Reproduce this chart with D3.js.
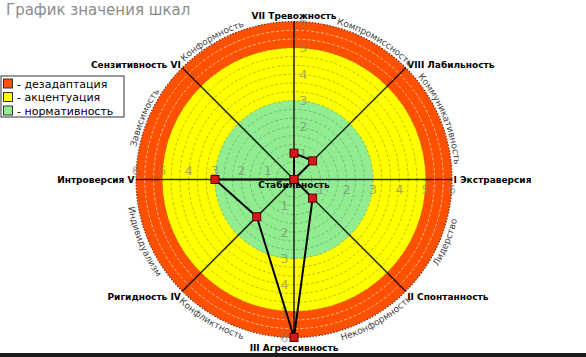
<!DOCTYPE html>
<html><head><meta charset="utf-8">
<script src="https://cdn.jsdelivr.net/npm/d3@7"></script>
<style>html,body{margin:0;padding:0;background:#fff;}svg{display:block;font-family:"DejaVu Sans",Verdana,sans-serif;}</style>
</head><body>
<svg id="chart" width="586" height="357"></svg>
<script>
const categories = ["I Экстраверсия","II Спонтанность","III Агрессивность","Ригидность IV","Интроверсия V","Сензитивность VI","VII Тревожность","VIII Лабильность"];
const values = [0, 1, 6, 2, 3, 0, 1, 1];
const betweenLabels = ["Лидерство","Неконформность","Конфликтность","Индивидуализм","Зависимость","Конформность","Компромиссность","Коммуникативность"];
const zoneNames = ["дезадаптация","акцентуация","нормативность"];
const zoneLimits = [6, 5, 3];
const zoneColors = ["#ff5000","#ffff00","#90ee90"];
const tickValues = [1, 2, 3, 4, 5, 6];
const centerLabel = "Стабильность";
const title = "График значения шкал";

const svg = d3.select("#chart");
const cx = 294, cy = 179.5;
const r = d3.scaleLinear().domain([0, 6]).range([0, 158]);
const ang = d3.scaleLinear().domain([0, categories.length]).range([90, 450]); // degrees clockwise from up
const rad = d => d * Math.PI / 180;
const pt = (a, rr) => [cx + rr * Math.sin(rad(a)), cy - rr * Math.cos(rad(a))];

// bottom frame bar
svg.append("rect").attr("x", 0).attr("y", 353).attr("width", 586).attr("height", 4).attr("fill", "#1c1c1c");

// title
svg.append("text").attr("x", 6).attr("y", 15).attr("font-size", 15).attr("fill", "#8c8c8c").text(title);

const g = svg.append("g");
// zones
g.selectAll("circle.zone").data(zoneLimits).enter().append("circle")
  .attr("cx", cx).attr("cy", cy).attr("r", d => r(d))
  .attr("fill", (d, i) => zoneColors[i]);

// grid circles every 1/3
const grid = d3.range(1, 18).map(k => k / 3);
g.selectAll("circle.grid").data(grid).enter().append("circle")
  .attr("cx", cx).attr("cy", cy).attr("r", d => r(d)).attr("fill", "none")
  .attr("stroke", d => d > 5.01 ? "rgba(255,255,255,0.6)" : d > 3.01 ? "rgba(130,130,20,0.5)" : "rgba(90,130,90,0.45)")
  .attr("stroke-width", 1).attr("stroke-dasharray", "3,2");
g.append("circle").attr("cx", cx).attr("cy", cy).attr("r", r(6)).attr("fill", "none")
  .attr("stroke", "#7a3010").attr("stroke-width", 1.2).attr("stroke-dasharray", "1.5,1.5");

// tick labels on the 4 orthogonal axes
categories.forEach((c, i) => {
  const a = ang(i);
  if (Math.round(a) % 90 !== 0) return;
  const s = Math.sin(rad(a)), co = Math.cos(rad(a));
  tickValues.forEach(v => {
    const [x, y] = pt(a, r(v));
    g.append("text").attr("x", x + 9.5 * co).attr("y", y + 9.5 * s)
      .attr("text-anchor", "middle").attr("dominant-baseline", "central")
      .attr("font-size", 13).attr("fill", "#7a7a7a").attr("opacity", 0.6).text(v);
  });
});

// axes
categories.forEach((c, i) => {
  const [x, y] = pt(ang(i), r(6));
  g.append("line").attr("x1", cx).attr("y1", cy).attr("x2", x).attr("y2", y)
    .attr("stroke", "#000").attr("stroke-opacity", 0.8).attr("stroke-width", 1.6);
});

// polygon
const line = d3.lineRadial().angle((d, i) => rad(ang(i))).radius(d => r(d)).curve(d3.curveLinearClosed);
g.append("path").attr("transform", `translate(${cx},${cy})`).attr("d", line(values))
  .attr("fill", "none").attr("stroke", "#000").attr("stroke-width", 2);

// markers
values.forEach((v, i) => {
  const [x, y] = pt(ang(i), r(v));
  g.append("rect").attr("x", x - 4).attr("y", y - 4).attr("width", 8).attr("height", 8)
    .attr("fill", "#d81818").attr("stroke", "#5a0000").attr("stroke-width", 1);
});

// axis labels
categories.forEach((c, i) => {
  const a = ang(i);
  const s = Math.sin(rad(a)), co = Math.cos(rad(a));
  const [x, y] = pt(a, r(6));
  const anchor = s > 0.1 ? "start" : s < -0.1 ? "end" : "middle";
  const dy = co > 0.9 ? -3 : co > 0.5 ? 0 : co > -0.5 ? 3.5 : co > -0.9 ? 9 : 13;
  const dx = s > 0.1 ? 1.5 : s < -0.1 ? -1.5 : 0;
  svg.append("text").attr("x", x + dx).attr("y", y + dy).attr("text-anchor", anchor)
    .attr("font-size", 9).attr("font-weight", "bold").attr("fill", "#000").text(c);
});

// labels between axes, along arcs
const defs = svg.append("defs");
betweenLabels.forEach((t, i) => {
  let a = ang(i) + 22.5;
  const na = ((a % 360) + 360) % 360;
  // shift away from the labels of the vertical axes
  if (Math.abs(Math.cos(rad(na))) > 0.9) {
    const nearest = na < 90 ? 0 : na > 270 ? 360 : 180;
    a += Math.sign(na - nearest) * 8;
  }
  const top = na > 270 || na < 90;
  const span = 40;
  let d;
  if (top) {
    const rr = 161;
    const [x1, y1] = pt(a - span, rr), [x2, y2] = pt(a + span, rr);
    d = `M${x1},${y1} A${rr},${rr} 0 0 1 ${x2},${y2}`;
  } else {
    const rr = 168;
    const [x1, y1] = pt(a + span, rr), [x2, y2] = pt(a - span, rr);
    d = `M${x1},${y1} A${rr},${rr} 0 0 0 ${x2},${y2}`;
  }
  defs.append("path").attr("id", "arc" + i).attr("d", d);
  svg.append("text").attr("font-size", 9).attr("fill", "#444")
    .append("textPath").attr("href", "#arc" + i).attr("startOffset", "50%").attr("text-anchor", "middle").text(t);
});

// center label
svg.append("text").attr("x", cx).attr("y", cy + 8.5).attr("text-anchor", "middle")
  .attr("font-size", 9).attr("font-weight", "bold").attr("fill", "#000").text(centerLabel);

// legend
const lg = svg.append("g");
lg.append("rect").attr("x", 1).attr("y", 76).attr("width", 123).attr("height", 41)
  .attr("fill", "#fff").attr("stroke", "#333").attr("stroke-width", 1);
zoneNames.forEach((n, i) => {
  const yc = 83.5 + i * 13.5;
  lg.append("rect").attr("x", 3.5).attr("y", yc - 4.5).attr("width", 9).attr("height", 9)
    .attr("fill", zoneColors[i]).attr("stroke", "#333").attr("stroke-width", 1);
  lg.append("text").attr("x", 17).attr("y", yc + 4).attr("font-size", 11).attr("fill", "#000").text("- " + n);
});
</script>
</body></html>
